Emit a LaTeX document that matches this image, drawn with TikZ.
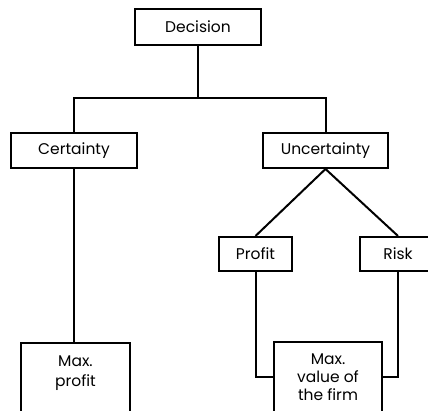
\documentclass[tikz,border=0pt]{standalone}
\usepackage{fontspec}
\setmainfont{Poppins}
\begin{document}
\begin{tikzpicture}[x=1pt,y=-1pt,
  every node/.style={font=\fontsize{15.5}{18}\selectfont},
  box/.style={draw, line width=2pt, inner sep=0pt, align=center},
  link/.style={line width=2pt},
  txt/.style={align=center, inner sep=0pt}]
\useasboundingbox (0,0) rectangle (428,411);
\clip (0,0) rectangle (428,411);
% top level
\node[box, minimum width=126, minimum height=36] (dec) at (198,27) {Decision};
\node[box, minimum width=126, minimum height=35] (cert) at (74,150.5) {Certainty};
\node[box, minimum width=125, minimum height=35] (unc) at (325.5,150.5) {Uncertainty};
% second level
\node[box, minimum width=73, minimum height=34] (prof) at (255.5,254) {Profit};
\node[box, minimum width=76, minimum height=34] (risk) at (398,254) {Risk};
% objective boxes, open towards the bottom edge
\node[box, minimum width=109, minimum height=90, anchor=north] (maxp) at (75.5,342) {};
\node[txt, anchor=north] at ([yshift=-14]maxp.north) {Max.\\[2pt]profit};
\node[box, minimum width=108, minimum height=90, anchor=north] (maxv) at (328,341) {};
\node[txt, anchor=north] at ([yshift=-13]maxv.north) {Max.\\value of\\the firm};
% connectors
\coordinate (split) at (dec.south |- 0,98);
\draw[link] (dec.south) -- (split);
\draw[link] (cert.north) |- (split) -| (unc.north);
\draw[link] (cert.south) -- (cert.south |- maxp.north);
\draw[link] (unc.south) -- (prof.north);
\draw[link] (unc.south) -- (risk.north);
\draw[link] (prof.south) |- (maxv.west |- 0,377);
\draw[link] (risk.south) |- (maxv.east |- 0,377);
\end{tikzpicture}
\end{document}
